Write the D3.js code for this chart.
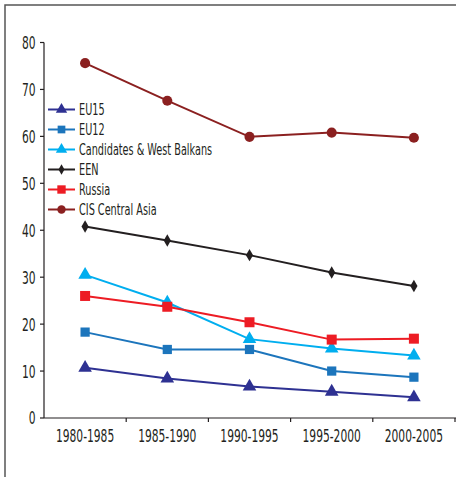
<!DOCTYPE html>
<html>
<head>
<meta charset="utf-8">
<script src="https://cdn.jsdelivr.net/npm/d3@7"></script>
<style>
  body { margin: 0; background: #fff; }
  text { font-family: "DejaVu Sans Condensed", "DejaVu Sans", sans-serif; fill: #231f20; }
</style>
</head>
<body>
<div id="container"></div>
<script>
const periods = ["1980-1985", "1985-1990", "1990-1995", "1995-2000", "2000-2005"];
const yTicks = [0, 10, 20, 30, 40, 50, 60, 70, 80];

const eu15 = [10.7, 8.4, 6.7, 5.6, 4.4];
const eu12 = [18.3, 14.6, 14.6, 10.0, 8.7];
const candidates = [30.5, 24.6, 16.8, 14.8, 13.3];
const een = [40.8, 37.8, 34.7, 31.0, 28.1];
const russia = [26.0, 23.7, 20.4, 16.7, 16.9];
const cisCentralAsia = [75.6, 67.6, 59.9, 60.8, 59.7];

const seriesNames = ["EU15", "EU12", "Candidates & West Balkans", "EEN", "Russia", "CIS Central Asia"];

main();

function main() {
  const width = 456;
  const height = 477;
  const margin = { top: 42.5, right: 0, bottom: 59, left: 44 };
  const innerWidth = width - margin.left - margin.right;
  const innerHeight = height - margin.top - margin.bottom;

  const series = [
    { name: seriesNames[0], values: eu15, color: "#2e3192", shape: d3.symbolTriangle, size: 80 },
    { name: seriesNames[1], values: eu12, color: "#1c75bc", shape: d3.symbolSquare, size: 85 },
    { name: seriesNames[2], values: candidates, color: "#00aeef", shape: d3.symbolTriangle, size: 80 },
    { name: seriesNames[3], values: een, color: "#231f20", shape: d3.symbolDiamond, size: 45 },
    { name: seriesNames[4], values: russia, color: "#ed1c24", shape: d3.symbolSquare, size: 100 },
    { name: seriesNames[5], values: cisCentralAsia, color: "#8b2020", shape: d3.symbolCircle, size: 80 },
  ];

  const svg = d3
    .select("#container")
    .append("svg")
    .attr("width", width)
    .attr("height", height);

  // outer frame (only top & left visible)
  svg.append("path")
    .attr("d", `M5,${height} L5,5 L${width},5`)
    .attr("fill", "none")
    .attr("stroke", "#555")
    .attr("stroke-width", 1.5);

  const g = svg.append("g")
    .attr("transform", `translate(${margin.left}, ${margin.top})`);

  const scaleX = d3.scaleBand().domain(periods).range([0, innerWidth - 1]);
  const scaleY = d3.scaleLinear().domain([0, 80]).range([innerHeight, 0]);

  // condensed text: translate to anchor, then squeeze horizontally
  const squeeze = (x, y, k) => `translate(${x}, ${y}) scale(${k}, 1)`;

  const axisX = g.append("g")
    .attr("transform", `translate(0, ${innerHeight})`);
  axisX.append("line")
    .attr("x1", 0).attr("x2", innerWidth)
    .attr("stroke", "#231f20").attr("stroke-width", 1.2);
  axisX.selectAll("line.tick")
    .data(periods)
    .join("line")
    .classed("tick", true)
    .attr("x1", (d) => scaleX(d) + scaleX.bandwidth())
    .attr("x2", (d) => scaleX(d) + scaleX.bandwidth())
    .attr("y1", 0).attr("y2", 4)
    .attr("stroke", "#231f20").attr("stroke-width", 1.2);
  axisX.selectAll("text")
    .data(periods)
    .join("text")
    .attr("transform", (d) => squeeze(scaleX(d) + scaleX.bandwidth() / 2, 23.5, 0.66))
    .attr("text-anchor", "middle")
    .attr("font-size", 18)
    .text((d) => d);

  const axisY = g.append("g");
  axisY.append("line")
    .attr("y1", 0).attr("y2", innerHeight)
    .attr("stroke", "#231f20").attr("stroke-width", 1.2);
  axisY.selectAll("line.tick")
    .data(yTicks)
    .join("line")
    .classed("tick", true)
    .attr("x1", -4).attr("x2", 0)
    .attr("y1", (d) => scaleY(d)).attr("y2", (d) => scaleY(d))
    .attr("stroke", "#231f20").attr("stroke-width", 1.2);
  axisY.selectAll("text")
    .data(yTicks)
    .join("text")
    .attr("transform", (d) => squeeze(-8.5, scaleY(d), 0.66))
    .attr("dy", "0.36em")
    .attr("text-anchor", "end")
    .attr("font-size", 18)
    .text((d) => d);

  const cx = (i) => scaleX(periods[i]) + scaleX.bandwidth() / 2;
  const line = d3.line()
    .x((d, i) => cx(i))
    .y((d) => scaleY(d));

  // draw in back-to-front order similar to reference
  const order = [5, 3, 0, 1, 2, 4];
  for (const k of order) {
    const s = series[k];
    const sg = g.append("g");
    sg.append("path")
      .datum(s.values)
      .attr("d", line)
      .attr("fill", "none")
      .attr("stroke", s.color)
      .attr("stroke-width", 2);
    sg.selectAll("path.pt")
      .data(s.values)
      .join("path")
      .classed("pt", true)
      .attr("transform", (d, i) => `translate(${cx(i)}, ${scaleY(d)})`)
      .attr("d", d3.symbol().type(s.shape).size(s.size))
      .attr("fill", s.color);
  }

  // legend
  const legend = svg.append("g").attr("transform", "translate(48, 109.5)");
  const rows = legend.selectAll("g")
    .data(series)
    .join("g")
    .attr("transform", (d, i) => `translate(0, ${i * 20})`);
  rows.append("line")
    .attr("x1", 0).attr("x2", 27)
    .attr("stroke", (d) => d.color)
    .attr("stroke-width", 2);
  rows.append("path")
    .attr("transform", "translate(13.5, 0)")
    .attr("d", (d) => d3.symbol().type(d.shape).size(d.size * 0.7)())
    .attr("fill", (d) => d.color);
  rows.append("text")
    .attr("transform", squeeze(31, 0, 0.72))
    .attr("dy", "0.36em")
    .attr("font-size", 15)
    .text((d) => d.name);
}
</script>
</body>
</html>
